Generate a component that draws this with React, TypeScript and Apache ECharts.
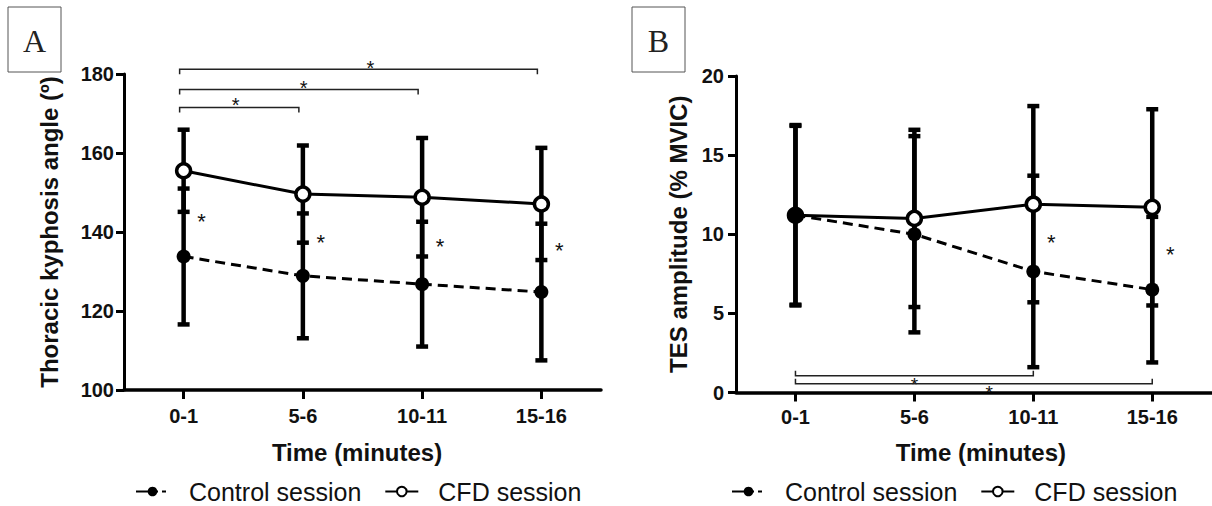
import React, { useEffect, useRef } from 'react';
import * as echarts from 'echarts';

const FONT = '"Liberation Sans", Arial, sans-serif';
const SERIF = '"Liberation Serif", "Times New Roman", serif';

const categories = ['0-1', '5-6', '10-11', '15-16'];
const seriesNames = ['Control session', 'CFD session'];

// Panel A: thoracic kyphosis angle (º), mean and SD
const controlA = [133.8, 128.9, 126.8, 124.8];
const controlASd = [17.2, 15.8, 15.8, 17.3];
const cfdA = [155.5, 149.6, 148.8, 147.1];
const cfdASd = [10.4, 12.3, 15.0, 14.2];
// between-session stars beside each time point (value where the star sits)
const starsA = [143.9, 138.7, 137.5, 136.7];
// brackets: [fromIndex, toIndex, lineValue, starPosition (category units), starValue]
const bracketsA = [
  [0, 3, 181.2, 1.6, 182.8],
  [0, 2, 176.1, 1.04, 177.7],
  [0, 1, 171.5, 0.47, 173.4],
];

// Panel B: TES amplitude (% MVIC), mean and SD
const controlB = [11.2, 10.0, 7.65, 6.5];
const controlBSd = [5.7, 6.2, 6.05, 4.6];
const cfdB = [11.2, 11.0, 11.9, 11.7];
const cfdBSd = [5.65, 5.6, 6.2, 6.2];
const starsB = [null, null, 9.8, 9.05];
const bracketsB = [
  [0, 2, 1.06, 1.0, 0.79],
  [0, 3, 0.55, 1.63, 0.3],
];

const INK = '#111';

function errorBars(gi: number, means: number[], sds: number[], z: number) {
  return {
    type: 'custom',
    xAxisIndex: gi,
    yAxisIndex: gi,
    z,
    silent: true,
    clip: false,
    data: means.map((m, i) => [i, m - sds[i], m + sds[i]]),
    encode: { x: 0, y: [1, 2] },
    renderItem: (params: any, api: any) => {
      const i = api.value(0);
      const lo = api.coord([i, api.value(1)]);
      const hi = api.coord([i, api.value(2)]);
      const hw = 6;
      const style = { stroke: '#000', lineWidth: 4.5, fill: null };
      return {
        type: 'group',
        children: [
          { type: 'line', shape: { x1: lo[0], y1: lo[1], x2: hi[0], y2: hi[1] }, style },
          { type: 'line', shape: { x1: lo[0] - hw, y1: lo[1], x2: lo[0] + hw, y2: lo[1] }, style },
          { type: 'line', shape: { x1: hi[0] - hw, y1: hi[1], x2: hi[0] + hw, y2: hi[1] }, style },
        ],
      };
    },
  };
}

function starSeries(gi: number, stars: (number | null)[], dx: number) {
  const data = stars
    .map((v, i) => (v == null ? null : [i, v]))
    .filter((d) => d != null);
  return {
    type: 'custom',
    xAxisIndex: gi,
    yAxisIndex: gi,
    z: 3,
    silent: true,
    clip: false,
    data,
    encode: { x: 0, y: 1 },
    renderItem: (params: any, api: any) => {
      const p = api.coord([api.value(0), api.value(1)]);
      return {
        type: 'text',
        x: p[0] + dx,
        y: p[1] + 5,
        style: {
          text: '*',
          fill: INK,
          fontSize: 22,
          fontFamily: FONT,
          align: 'center',
          verticalAlign: 'middle',
        },
      };
    },
  };
}

function bracketSeries(gi: number, brackets: number[][], hang: number, dx: number, starSize: number) {
  return {
    type: 'custom',
    xAxisIndex: gi,
    yAxisIndex: gi,
    z: 3,
    silent: true,
    clip: false,
    data: brackets,
    encode: { x: [0, 1], y: [2, 4] },
    renderItem: (params: any, api: any) => {
      const from = api.value(0);
      const to = api.value(1);
      const v = api.value(2);
      const pos = api.value(3);
      const sv = api.value(4);
      const a = api.coord([from, v]);
      const b = api.coord([to, v]);
      const c0 = api.coord([0, sv]);
      const c1 = api.coord([1, sv]);
      const sx = c0[0] + pos * (c1[0] - c0[0]) + dx;
      const x1 = a[0] + dx;
      const x2 = b[0] + dx;
      const y = a[1];
      return {
        type: 'group',
        children: [
          {
            type: 'polyline',
            shape: { points: [[x1, y + hang], [x1, y], [x2, y], [x2, y + hang]] },
            style: { stroke: '#222', lineWidth: 1.5, fill: null },
          },
          {
            type: 'text',
            x: sx,
            y: c0[1] + starSize * 0.23,
            style: {
              text: '*',
              fill: INK,
              fontSize: starSize,
              fontFamily: FONT,
              align: 'center',
              verticalAlign: 'middle',
            },
          },
        ],
      };
    },
  };
}

function lineSeries(gi: number, name: string, data: number[], control: boolean) {
  return {
    type: 'line',
    name,
    xAxisIndex: gi,
    yAxisIndex: gi,
    data,
    z: control ? 6 : 5,
    symbol: 'circle',
    symbolSize: 14,
    lineStyle: { color: '#000', width: 3, type: control ? [10, 6] : 'solid' },
    itemStyle: control
      ? { color: '#000', borderColor: '#000', borderWidth: 0 }
      : { color: '#fff', borderColor: '#000', borderWidth: 3.5 },
  };
}

function xAxisCfg(gi: number, nameGap: number, labelMargin: number, namePad: number[]) {
  return {
    type: 'category',
    gridIndex: gi,
    data: categories,
    boundaryGap: true,
    axisLine: { show: true, lineStyle: { color: '#000', width: 3.5 } },
    axisTick: { show: true, alignWithLabel: true, length: 9, lineStyle: { color: '#000', width: 3 } },
    axisLabel: { margin: labelMargin, fontSize: 20, fontWeight: 'bold', color: INK, fontFamily: FONT },
    splitLine: { show: false },
    name: 'Time (minutes)',
    nameLocation: 'middle',
    nameGap,
    nameTextStyle: { fontSize: 24, fontWeight: 'bold', color: INK, fontFamily: FONT, padding: namePad },
  };
}

function yAxisCfg(gi: number, name: string, min: number, max: number, interval: number, nameGap: number, labelMargin: number) {
  return {
    type: 'value',
    gridIndex: gi,
    min,
    max,
    interval,
    axisLine: { show: true, lineStyle: { color: '#000', width: 3 } },
    axisTick: { show: true, length: 8, lineStyle: { color: '#000', width: 3 } },
    axisLabel: { margin: labelMargin, fontSize: 20, fontWeight: 'bold', color: INK, fontFamily: FONT },
    splitLine: { show: false },
    name,
    nameLocation: 'middle',
    nameRotate: 90,
    nameGap,
    nameTextStyle: { fontSize: 24, fontWeight: 'bold', color: INK, fontFamily: FONT },
  };
}

function legendCfg(left: number) {
  return {
    data: [
      { name: seriesNames[0], lineStyle: { type: [22, 4, 4, 10] } },
      { name: seriesNames[1] },
    ],
    left,
    top: 474,
    orient: 'horizontal',
    itemWidth: 33,
    itemHeight: 12,
    itemGap: 23,
    selectedMode: false,
    textStyle: { fontSize: 25, color: INK, fontFamily: FONT, padding: [0, 0, 0, 15] },
  };
}

function panelLabel(letter: string, x: number) {
  return [
    {
      type: 'rect',
      shape: { x, y: 7, width: 53, height: 65 },
      style: { fill: '#fff', stroke: '#555', lineWidth: 1 },
    },
    {
      type: 'text',
      x: x + 26.5,
      y: 40.5,
      style: {
        text: letter,
        fill: '#222',
        fontSize: 32,
        fontFamily: SERIF,
        align: 'center',
        verticalAlign: 'middle',
      },
    },
  ];
}

export default function App() {
  const ref = useRef<HTMLDivElement>(null);
  useEffect(() => {
    if (!ref.current) return;
    const chart = echarts.init(ref.current, null, { renderer: 'svg' });
    chart.setOption({
      animation: false,
      backgroundColor: '#fff',
      textStyle: { fontFamily: FONT },
      grid: [
        { left: 124, top: 74, width: 477, height: 316 },
        { left: 736, top: 76, width: 475.7, height: 316.5 },
      ],
      xAxis: [xAxisCfg(0, 50, 16, [0, 11, 0, 0]), xAxisCfg(1, 48, 14, [0, 0, 0, 14])],
      yAxis: [
        yAxisCfg(0, 'Thoracic kyphosis angle (º)', 100, 180, 20, 63, 10),
        yAxisCfg(1, 'TES amplitude (% MVIC)', 0, 20, 5, 46, 12),
      ],
      legend: [legendCfg(130), legendCfg(726)],
      graphic: [...panelLabel('A', 8), ...panelLabel('B', 632)],
      series: [
        errorBars(0, cfdA, cfdASd, 2),
        errorBars(0, controlA, controlASd, 2),
        lineSeries(0, seriesNames[1], cfdA, false),
        lineSeries(0, seriesNames[0], controlA, true),
        starSeries(0, starsA, 18),
        bracketSeries(0, bracketsA, 5, -4, 20),
        errorBars(1, cfdB, cfdBSd, 2),
        errorBars(1, controlB, controlBSd, 2),
        lineSeries(1, seriesNames[1], cfdB, false),
        lineSeries(1, seriesNames[0], controlB, true),
        starSeries(1, starsB, 18),
        bracketSeries(1, bracketsB, -5, 0, 19),
      ],
    });
    return () => chart.dispose();
  }, []);
  return (
    <div
      ref={ref}
      style={{ position: 'absolute', left: 0, top: 0, width: 1212, height: 506 }}
    />
  );
}
